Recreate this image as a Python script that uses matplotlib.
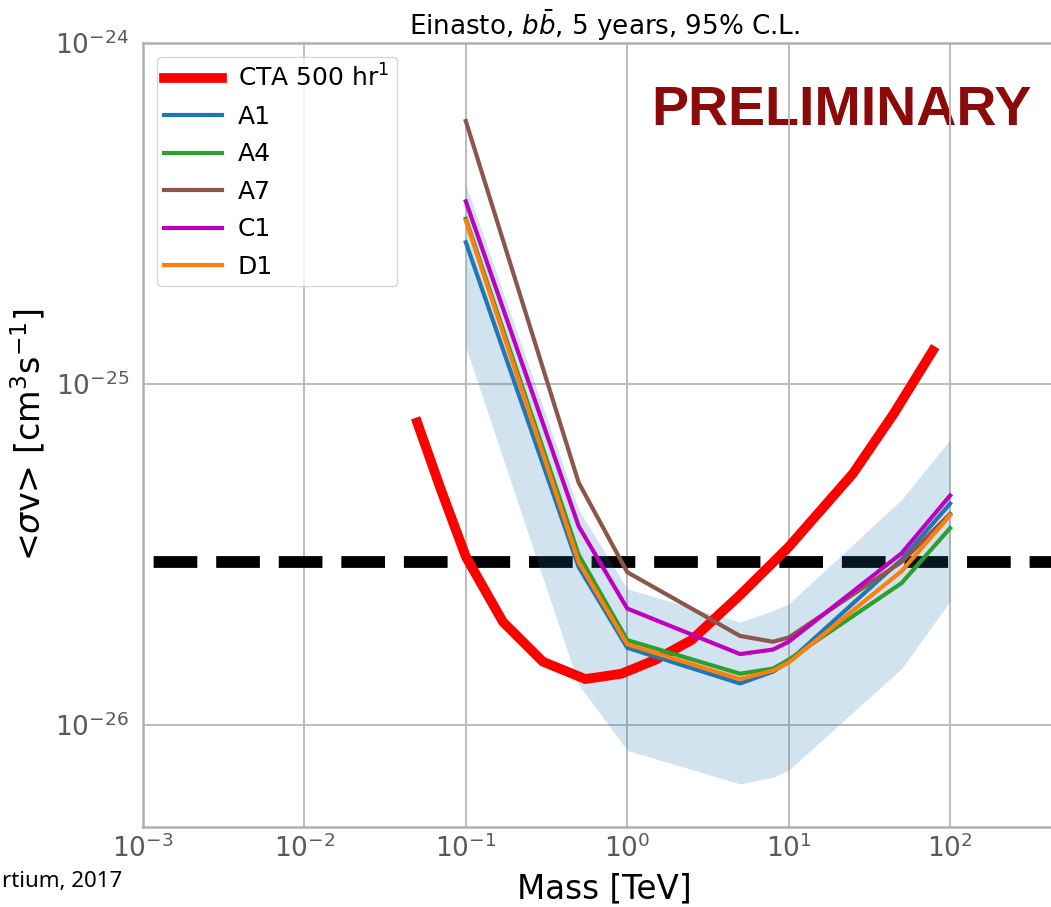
import numpy as np
import matplotlib.pyplot as plt

# Dark matter masses [TeV] used for the halo models
mass = [0.1, 0.5, 1, 5, 8, 10, 50, 100]

# <sigma v> limits per model [cm^3 s^-1]
a1 = [2.6e-25, 2.9e-26, 1.68e-26, 1.32e-26, 1.43e-26, 1.53e-26, 3.05e-26, 4.45e-26]
a4 = [3.05e-25, 3.15e-26, 1.77e-26, 1.41e-26, 1.46e-26, 1.55e-26, 2.6e-26, 3.77e-26]
a7 = [5.9e-25, 5.13e-26, 2.8e-26, 1.82e-26, 1.75e-26, 1.8e-26, 3.0e-26, 4.15e-26]
c1 = [3.43e-25, 3.82e-26, 2.19e-26, 1.61e-26, 1.66e-26, 1.75e-26, 3.18e-26, 4.7e-26]
d1 = [3.01e-25, 3.0e-26, 1.72e-26, 1.36e-26, 1.44e-26, 1.52e-26, 2.82e-26, 4.11e-26]

# uncertainty band
band_lo = [1.28e-25, 1.31e-26, 8.4e-27, 6.7e-27, 7.0e-27, 7.35e-27, 1.46e-26, 2.3e-26]
band_hi = [3.84e-25, 4.27e-26, 2.5e-26, 2.0e-26, 2.16e-26, 2.26e-26, 4.57e-26, 6.86e-26]

# CTA 500 hr sensitivity curve
cta_mass = [0.05, 0.07, 0.1, 0.17, 0.3, 0.55, 0.92, 1.5, 2.5, 5, 10, 25, 45, 78]
cta = [7.7e-26, 4.9e-26, 3.11e-26, 2.0e-26, 1.53e-26, 1.36e-26, 1.41e-26,
       1.55e-26, 1.77e-26, 2.4e-26, 3.32e-26, 5.45e-26, 8.2e-26, 1.25e-25]

thermal = 3e-26  # thermal relic cross section

fig = plt.figure(figsize=(10.51, 9.07), dpi=100)
ax = fig.add_axes([0.136, 0.088, 0.864, 0.8647])

# thermal relic line (dash phase shifted a bit)
ax.axhline(thermal, color='black', lw=8.5, linestyle=(4.4, (3.7, 1.6)), zorder=1.5)

ax.fill_between(mass, band_lo, band_hi, color='C0', alpha=0.2, lw=0, zorder=2)

ax.plot(cta_mass, cta, color='red', lw=7, label='CTA 500 hr$^1$', zorder=3)
ax.plot(mass, a1, color='C0', lw=3, label='A1', zorder=3)
ax.plot(mass, a4, color='C2', lw=3, label='A4', zorder=3)
ax.plot(mass, a7, color='C5', lw=3, label='A7', zorder=3)
ax.plot(mass, c1, color='m', lw=3, label='C1', zorder=3)
ax.plot(mass, d1, color='C1', lw=3, label='D1', zorder=3)

ax.set_xscale('log')
ax.set_yscale('log')
ax.set_xlim(1e-3, 10**2.625)
ax.set_ylim(5e-27, 1e-24)
ax.set_xticks([1e-3, 1e-2, 1e-1, 1e0, 1e1, 1e2])
ax.set_yticks([1e-26, 1e-25, 1e-24])
ax.minorticks_off()

ax.grid(True, color='#b8b8b8', lw=1.3)
ax.set_axisbelow(True)
for side in ['left', 'bottom', 'top']:
    ax.spines[side].set_color('#b0b0b0')
    ax.spines[side].set_linewidth(1.8)
ax.spines['right'].set_visible(False)

ax.tick_params(axis='both', length=0, labelsize=19, labelcolor='#5a5a5a')
ax.tick_params(axis='y', pad=10)
ax.tick_params(axis='x', pad=5)

ax.set_xlabel('Mass [TeV]', fontsize=23.5, labelpad=7)
ax.xaxis.label.set_x(0.508)
ax.set_ylabel(r'<$\sigma$v> [cm$^3$s$^{-1}$]', fontsize=24, labelpad=6)
ax.set_title(r'Einasto, $b\bar{b}$, 5 years, 95% C.L.', fontsize=18.8, x=0.508)

ax.legend(loc='upper left', fontsize=18, handlelength=2.3, handletextpad=0.65,
          labelspacing=0.54, borderpad=0.3, borderaxespad=0.55)

# watermark sits under the grid
ax.text(0.769, 0.913, 'PRELIMINARY', transform=ax.transAxes, fontsize=40,
        fontweight='bold', family='Liberation Sans', color='#8b0a0a',
        ha='center', va='center', zorder=0.2)

fig.text(0.002, 0.022, 'rtium, 2017', fontsize=16, family='Noto Sans',
         ha='left', va='baseline')

plt.savefig('out.png', dpi=100)
